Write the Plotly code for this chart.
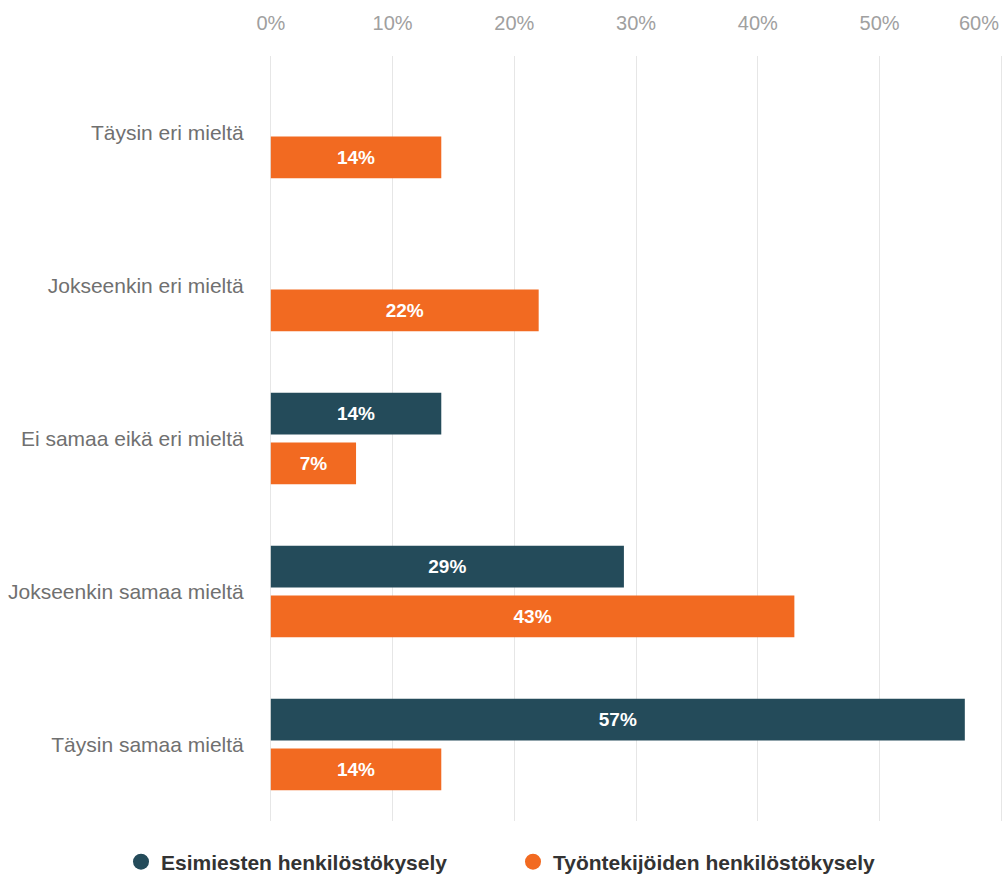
import plotly.graph_objects as go

categories = ["Täysin eri mieltä", "Jokseenkin eri mieltä", "Ei samaa eikä eri mieltä",
              "Jokseenkin samaa mieltä", "Täysin samaa mieltä"]
esimiesten = [None, None, 14, 29, 57]
tyontekijoiden = [14, 22, 7, 43, 14]
series_names = ["Esimiesten henkilöstökysely", "Työntekijöiden henkilöstökysely"]
tick_vals = [0, 10, 20, 30, 40, 50, 60]
tick_text = ["0%", "10%", "20%", "30%", "40%", "50%", "60%"]

DARK = "#244B5A"
ORANGE = "#F26A21"
FONT = "Liberation Sans, Arial, sans-serif"

fig = go.Figure()
for vals, name, col in [(esimiesten, series_names[0], DARK), (tyontekijoiden, series_names[1], ORANGE)]:
    fig.add_trace(go.Bar(
        y=categories, x=vals, orientation="h", name=name, marker=dict(color=col, line=dict(width=0)),
        texttemplate="%{x:.0f}%", textposition="inside", insidetextanchor="middle",
        textangle=0, constraintext="none",
        textfont=dict(color="white", size=19, family=FONT, weight="bold"),
        showlegend=False, hoverinfo="skip",
    ))
legend_ids = ["legend", "legend2"]
for name, col, lg in [(series_names[0], DARK, legend_ids[0]), (series_names[1], ORANGE, legend_ids[1])]:
    fig.add_trace(go.Scatter(
        x=[None], y=[None], mode="markers", name=name, legend=lg,
        marker=dict(color=col, size=17, symbol="circle"), showlegend=True,
    ))

# last tick label is justified to the right edge (as in the reference)
shown_text = tick_text[:-1] + [""]
fig.add_annotation(
    x=tick_vals[-1], xref="x", y=1, yref="paper", yanchor="middle", yshift=33,
    xanchor="right", text=tick_text[-1], showarrow=False,
    font=dict(color="#A0A0A0", size=20, family=FONT),
)

leg_font = dict(size=21, color="#333333", family=FONT, weight="bold")
fig.update_layout(
    width=1007, height=877,
    margin=dict(l=269, r=2, t=56, b=56),
    paper_bgcolor="white", plot_bgcolor="white",
    barmode="group", bargap=0.35, bargroupgap=0.16,
    font=dict(family=FONT, size=20, color="#707070"),
    xaxis=dict(
        side="top", range=[-0.15, 60.3], tickvals=tick_vals, ticktext=shown_text,
        showgrid=True, gridcolor="#E6E6E6", gridwidth=1,
        zeroline=False,
        showline=False, ticks="outside", ticklen=17, tickcolor="rgba(0,0,0,0)",
        tickfont=dict(color="#A0A0A0", size=20, family=FONT), fixedrange=True,
    ),
    yaxis=dict(
        autorange="reversed", showgrid=False, zeroline=False, showline=False,
        ticks="outside", ticklen=20, tickcolor="rgba(0,0,0,0)",
        tickfont=dict(color="#707070", size=21, family=FONT),
    ),
    legend=dict(
        orientation="h", xref="container", yref="container",
        x=121 / 1007, y=15 / 877, xanchor="left", yanchor="middle",
        font=leg_font, itemsizing="trace",
    ),
    legend2=dict(
        orientation="h", xref="container", yref="container",
        x=513 / 1007, y=15 / 877, xanchor="left", yanchor="middle",
        font=leg_font, itemsizing="trace",
    ),
)
fig.write_html("out.html")
